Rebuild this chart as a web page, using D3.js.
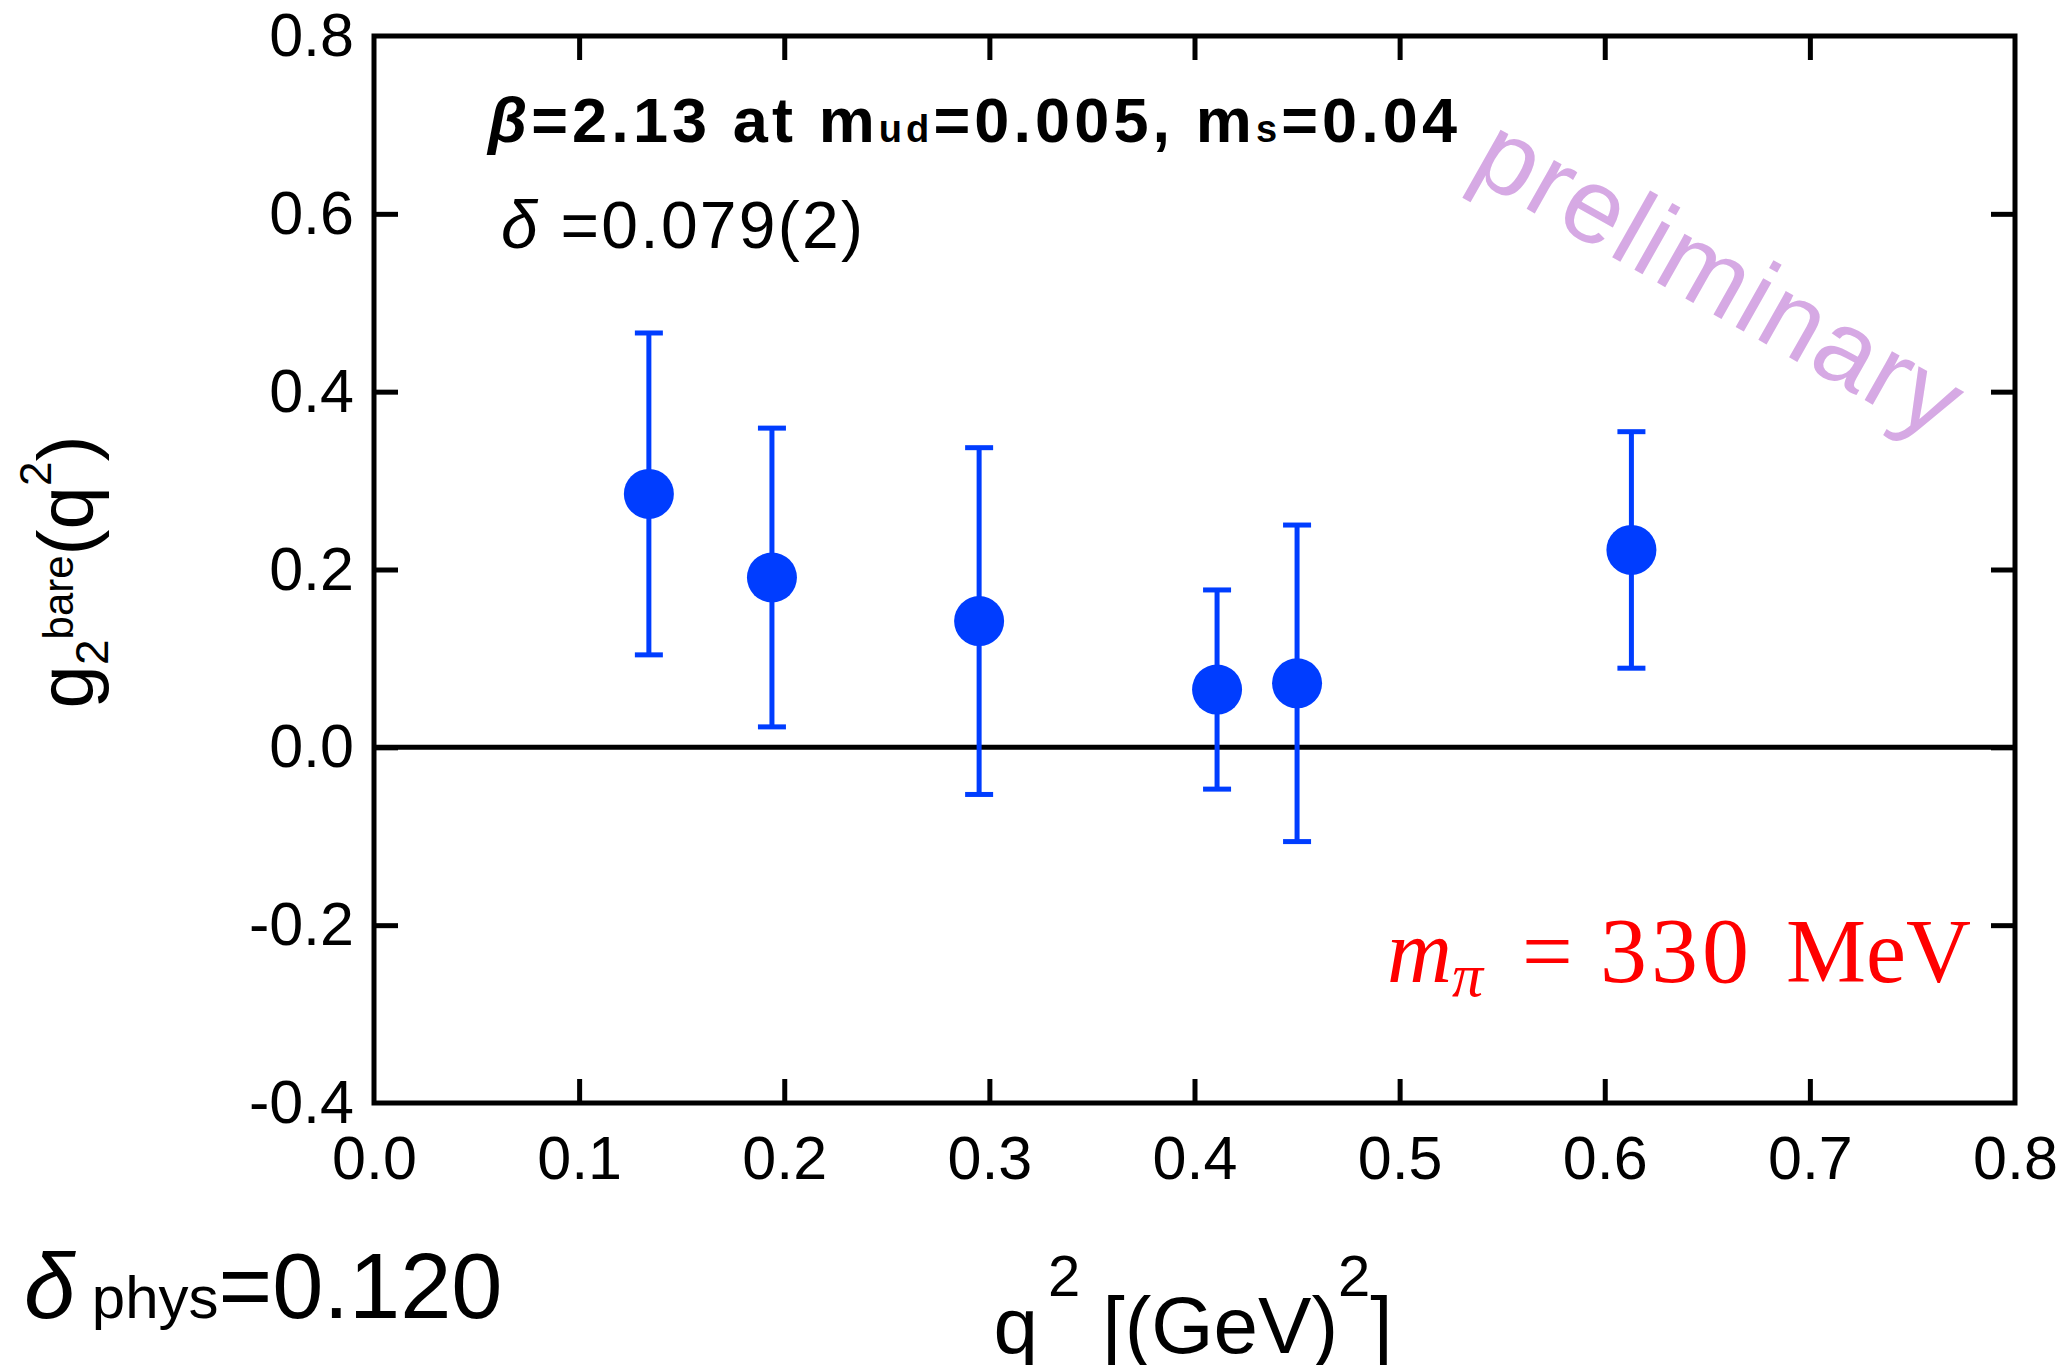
<!DOCTYPE html>
<html>
<head>
<meta charset="utf-8">
<script src="https://cdn.jsdelivr.net/npm/d3@7"></script>
<style>
  body { margin: 0; background: #fff; }
  text { font-family: "Liberation Sans", Arial, sans-serif; }
</style>
</head>
<body>
<div id="chart"></div>
<script>
// data
var q2 = [0.134, 0.194, 0.295, 0.411, 0.450, 0.613];
var g2 = [0.285, 0.191, 0.142, 0.065, 0.072, 0.222];
var g2err = [0.181, 0.168, 0.195, 0.112, 0.178, 0.133];

var xTicks = [0.0, 0.1, 0.2, 0.3, 0.4, 0.5, 0.6, 0.7, 0.8];
var yTicks = [-0.4, -0.2, 0.0, 0.2, 0.4, 0.6, 0.8];

var W = 2067, H = 1365;
var plotL = 374, plotR = 2015, plotT = 36, plotB = 1103;
var blue = "#003dff";

var svg = d3.select("#chart").append("svg")
    .attr("width", W)
    .attr("height", H);

svg.append("rect").attr("width", W).attr("height", H).attr("fill", "#fff");

var x = d3.scaleLinear().domain([0, 0.8]).range([plotL, plotR]);
var y = d3.scaleLinear().domain([-0.4, 0.8]).range([plotB, plotT]);

// plain hyphen for negatives, like the original
var fmt = function(d) { return d.toFixed(1); };

// axes, ticks pointing inwards on all four sides
var gx = svg.append("g")
    .attr("transform", "translate(0," + plotB + ")")
    .call(d3.axisBottom(x).tickValues(xTicks).tickFormat(fmt).tickSizeInner(-24).tickSizeOuter(0).tickPadding(33));
var gxTop = svg.append("g")
    .attr("transform", "translate(0," + plotT + ")")
    .call(d3.axisTop(x).tickValues(xTicks.slice(1, -1)).tickFormat("").tickSizeInner(-24).tickSizeOuter(0));
var gy = svg.append("g")
    .attr("transform", "translate(" + plotL + ",0)")
    .call(d3.axisLeft(y).tickValues(yTicks).tickFormat(fmt).tickSizeInner(-24).tickSizeOuter(0).tickPadding(20));
var gyRight = svg.append("g")
    .attr("transform", "translate(" + plotR + ",0)")
    .call(d3.axisRight(y).tickValues(yTicks.slice(1, -1)).tickFormat("").tickSizeInner(-24).tickSizeOuter(0));

[gx, gxTop, gy, gyRight].forEach(function(g) {
    g.select(".domain").remove();
    g.selectAll(".tick line").attr("stroke", "#000").attr("stroke-width", 5);
    g.selectAll(".tick text")
        .attr("fill", "#000")
        .style("font-size", "61px")
        .style("font-family", "'Liberation Sans', Arial, sans-serif");
});
// no inner ticks at the corners
gx.selectAll(".tick line").filter(function(d) { return d === 0 || d === 0.8; }).remove();
gy.selectAll(".tick line").filter(function(d) { return d === -0.4 || d === 0.8; }).remove();

// zero line
svg.append("line")
    .attr("x1", plotL).attr("x2", plotR)
    .attr("y1", y(0)).attr("y2", y(0))
    .attr("stroke", "#000").attr("stroke-width", 5);

// frame
svg.append("rect")
    .attr("x", plotL).attr("y", plotT)
    .attr("width", plotR - plotL).attr("height", plotB - plotT)
    .attr("fill", "none").attr("stroke", "#000").attr("stroke-width", 5);

// error bars
var pts = q2.map(function(d, i) { return { x: d, y: g2[i], e: g2err[i] }; });
var eb = svg.append("g").attr("stroke", blue).attr("stroke-width", 5);
eb.selectAll(".v").data(pts).enter().append("line")
    .attr("x1", function(d) { return x(d.x); }).attr("x2", function(d) { return x(d.x); })
    .attr("y1", function(d) { return y(d.y - d.e); }).attr("y2", function(d) { return y(d.y + d.e); });
eb.selectAll(".cu").data(pts).enter().append("line")
    .attr("x1", function(d) { return x(d.x) - 14; }).attr("x2", function(d) { return x(d.x) + 14; })
    .attr("y1", function(d) { return y(d.y + d.e); }).attr("y2", function(d) { return y(d.y + d.e); });
eb.selectAll(".cl").data(pts).enter().append("line")
    .attr("x1", function(d) { return x(d.x) - 14; }).attr("x2", function(d) { return x(d.x) + 14; })
    .attr("y1", function(d) { return y(d.y - d.e); }).attr("y2", function(d) { return y(d.y - d.e); });

svg.append("g").selectAll("circle").data(pts).enter().append("circle")
    .attr("cx", function(d) { return x(d.x); })
    .attr("cy", function(d) { return y(d.y); })
    .attr("r", 25)
    .attr("fill", blue);

// y title
var yt = svg.append("text")
    .attr("transform", "translate(93,572) rotate(-90)")
    .attr("text-anchor", "middle")
    .style("font-size", "78px");
yt.append("tspan").text("g");
yt.append("tspan").attr("dy", 15).style("font-size", "46px").text("2");
yt.append("tspan").attr("dy", -35).style("font-size", "42px").text("bare");
yt.append("tspan").attr("dy", 20).text("(q");
yt.append("tspan").attr("dy", -42).style("font-size", "44px").text("2");
yt.append("tspan").attr("dy", 42).text(")");

// x title (runs off the bottom edge as in the original)
var xt = svg.append("text")
    .attr("x", 1193).attr("y", 1353)
    .attr("text-anchor", "middle")
    .style("font-size", "80px");
xt.append("tspan").text("q");
xt.append("tspan").attr("dx", 10).attr("dy", -57).style("font-size", "58px").text("2");
xt.append("tspan").attr("dy", 57).text(" [(GeV)");
xt.append("tspan").attr("dy", -57).style("font-size", "58px").text("2");
xt.append("tspan").attr("dy", 57).text("]");

// delta_phys
var dp = svg.append("text").attr("x", 24).attr("y", 1318).style("font-size", "92px");
dp.append("tspan").style("font-style", "italic").text("δ");
dp.append("tspan").style("font-size", "60px").text(" phys");
dp.append("tspan").text("=0.120");

// annotations
var a1 = svg.append("text").attr("x", 488).attr("y", 142)
    .style("font-size", "63px").style("font-weight", "bold")
    .attr("textLength", 969).attr("lengthAdjust", "spacing");
a1.append("tspan").style("font-style", "italic").text("β");
a1.append("tspan").text("=2.13 at m");
a1.append("tspan").style("font-size", "38px").text("ud");
a1.append("tspan").text("=0.005, m");
a1.append("tspan").style("font-size", "38px").text("s");
a1.append("tspan").text("=0.04");

var a2 = svg.append("text").attr("x", 501).attr("y", 248)
    .style("font-size", "66px")
    .attr("textLength", 362).attr("lengthAdjust", "spacing");
a2.append("tspan").style("font-style", "italic").text("δ");
a2.append("tspan").text(" =0.079(2)");

var mp = svg.append("text").attr("x", 1387).attr("y", 982)
    .attr("fill", "#ff0000")
    .style("font-family", "'Liberation Serif', 'Times New Roman', serif")
    .style("font-size", "90px");
mp.append("tspan").style("font-style", "italic").text("m");
mp.append("tspan").attr("dy", 14).style("font-style", "italic").style("font-size", "62px").text("π");
mp.append("tspan").attr("dy", -14).attr("x", 1522).text("=");
mp.append("tspan").attr("x", 1600).style("font-size", "94px").style("letter-spacing", "4px").text("330");
mp.append("tspan").attr("x", 1786).text("MeV");

svg.append("text")
    .attr("transform", "translate(1702,308) rotate(29.5)")
    .attr("text-anchor", "middle")
    .attr("fill", "#d6a9e4")
    .style("font-size", "106px")
    .attr("textLength", 540).attr("lengthAdjust", "spacing")
    .text("preliminary");
</script>
</body>
</html>
